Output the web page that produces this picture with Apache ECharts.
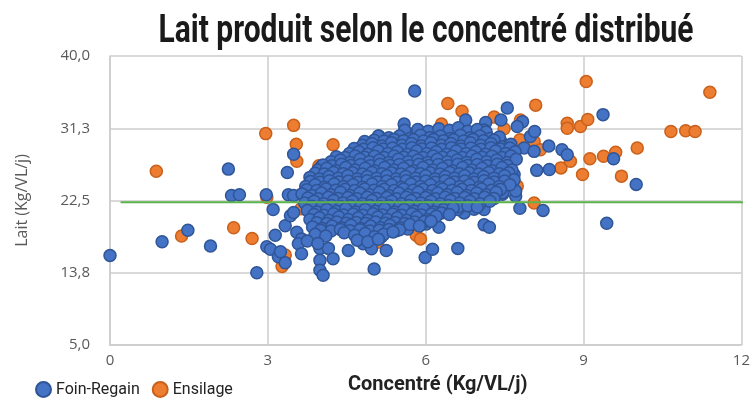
<!DOCTYPE html>
<html>
<head>
<meta charset="utf-8">
<script src="https://cdn.jsdelivr.net/npm/echarts@6/dist/echarts.min.js"></script>
<style>
  html, body { margin: 0; padding: 0; background: #fff; }
  #main { width: 753px; height: 400px; }
</style>
</head>
<body>
<div id="main"></div>
<script>
// axes
const xTicks = [0, 3, 6, 9, 12];
const seuil = 22.3; // ligne verte
const seuilX = [0.2, 12.2];

// Foin-Regain : points isolés
const foinOuter = [
  [0,15.85],[0.99,17.5],[1.48,18.9],[1.91,17.0],[2.25,26.3],[2.31,23.1],[2.46,23.2],[2.79,13.75],
  [2.97,23.2],[2.98,16.9],[3.05,16.6],[3.10,21.4],[3.14,18.3],[3.20,15.7],[3.24,16.3],[3.33,14.95],
  [3.33,19.45],[3.39,23.2],[3.49,23.1],[3.43,20.65],[3.49,21.05],[3.37,25.9],[3.49,28.1],[3.55,18.65],
  [3.64,17.85],[3.58,17.25],[3.64,16.05],[3.90,17.85],[3.99,16.7],[4.15,16.7],[3.99,15.25],[4.24,15.45],
  [3.99,14.05],[4.05,13.45],[4.53,16.45],[4.81,17.25],[4.97,16.65],[5.02,14.2],[5.25,16.45],[5.99,15.6],
  [6.13,16.6],[6.61,16.7],[6.25,19.25],[7.11,19.55],[7.21,19.25],[7.46,23.4],[7.11,21.4],[6.73,21.0],
  [6.45,21.05],[6.61,21.4],[6.92,21.45],[6.98,21.85],[5.16,18.1],[5.44,18.85],[5.66,19.05],[6.01,19.65],
  [5.79,35.75],[7.55,33.7],[7.43,32.25],[6.76,32.25],[7.14,31.95],[7.11,31.05],[5.59,31.75],[5.55,30.25],
  [5.11,30.3],[4.84,29.65],[4.87,28.85],[4.43,27.45],[4.02,26.65],[3.87,25.05],[4.09,24.65],[4.28,24.85],
  [5.85,31.05],[7.84,32.05],[7.74,31.45],[7.99,30.25],[8.07,30.85],[7.43,29.65],[7.87,28.85],[8.06,28.45],
  [8.34,29.1],[8.59,28.65],[8.69,28.05],[8.11,26.15],[8.35,26.25],[9.37,32.9],[9.57,27.55],[10.0,24.45],
  [9.44,19.75],[7.79,21.55],[8.23,21.3],[7.46,23.25],[7.71,23.05],[7.65,24.25],[7.36,28.65],[7.55,27.85],
  [7.47,26.7],[7.61,26.65],[7.68,25.65],[7.43,25.05],[7.65,24.65],[7.71,23.65],[7.46,23.45]
];

// Foin-Regain : nuage dense
const foinCore = [
  [5.6,31.0],[5.85,31.1],[6.05,30.9],[6.25,31.2],[6.45,31.0],[6.62,31.3],[6.8,30.9],[6.98,31.1],[7.15,30.8],
  [5.1,30.3],[5.3,30.1],[5.5,30.3],[5.7,30.0],[5.9,30.4],[6.08,30.1],[6.28,30.3],[6.47,30.0],[6.66,30.4],
  [6.85,30.1],[7.03,30.3],[7.22,30.0],[7.4,30.2],
  [5.02,29.8],[5.21,29.7],[5.4,29.9],[5.58,29.75],[5.77,29.85],[5.96,29.7],[6.15,29.9],[6.34,29.75],[6.53,29.85],
  [6.72,29.7],[6.9,29.9],[7.1,29.75],[7.3,29.8],
  [4.8,29.2],[4.98,29.4],[5.17,29.1],[5.35,29.5],[5.55,29.2],[5.73,29.4],[5.92,29.1],[6.1,29.5],[6.3,29.2],
  [6.48,29.4],[6.67,29.1],[6.85,29.5],[7.05,29.2],[7.24,29.4],[7.45,29.0],[7.62,29.3],
  [4.64,28.8],[4.82,28.7],[5.0,28.9],[5.19,28.75],[5.37,28.85],[5.56,28.7],[5.74,28.9],[5.93,28.75],[6.11,28.85],
  [6.3,28.7],[6.49,28.9],[6.67,28.75],[6.86,28.85],[7.05,28.7],[7.24,28.9],[7.42,28.75],[7.6,28.85],
  [4.55,28.2],[4.73,28.4],[4.9,28.1],[5.1,28.5],[5.28,28.2],[5.46,28.4],[5.65,28.1],[5.83,28.5],[6.02,28.2],
  [6.2,28.4],[6.4,28.1],[6.58,28.5],[6.77,28.2],[6.95,28.4],[7.14,28.1],[7.33,28.5],[7.52,28.2],[7.7,28.4],
  [4.3,27.8],[4.47,27.7],[4.66,27.9],[4.84,27.75],[5.03,27.85],[5.21,27.7],[5.4,27.9],[5.58,27.75],[5.77,27.85],
  [5.95,27.7],[6.14,27.9],[6.32,27.75],[6.51,27.85],[6.7,27.7],[6.88,27.9],[7.07,27.75],[7.26,27.85],[7.45,27.7],
  [7.62,27.9],
  [4.2,27.2],[4.38,27.4],[4.56,27.1],[4.75,27.5],[4.93,27.2],[5.12,27.4],[5.3,27.1],[5.48,27.5],[5.67,27.2],
  [5.85,27.4],[6.04,27.1],[6.22,27.5],[6.41,27.2],[6.6,27.4],[6.78,27.1],[6.97,27.5],[7.16,27.2],[7.35,27.4],
  [7.55,27.1],[7.72,27.5],
  [4.05,26.8],[4.22,26.7],[4.4,26.9],[4.58,26.75],[4.76,26.85],[4.95,26.7],[5.13,26.9],[5.32,26.75],[5.5,26.85],
  [5.69,26.7],[5.87,26.9],[6.06,26.75],[6.24,26.85],[6.43,26.7],[6.61,26.9],[6.8,26.75],[6.98,26.85],[7.17,26.7],
  [7.36,26.9],[7.55,26.75],
  [3.95,26.2],[4.12,26.4],[4.3,26.1],[4.48,26.5],[4.66,26.2],[4.85,26.4],[5.03,26.1],[5.22,26.5],[5.4,26.2],
  [5.58,26.4],[5.77,26.1],[5.95,26.5],[6.14,26.2],[6.32,26.4],[6.51,26.1],[6.7,26.5],[6.88,26.2],[7.07,26.4],
  [7.26,26.1],[7.45,26.5],[7.64,26.2],
  [3.9,25.8],[4.07,25.7],[4.25,25.9],[4.43,25.75],[4.61,25.85],[4.8,25.7],[4.98,25.9],[5.17,25.75],[5.35,25.85],
  [5.53,25.7],[5.72,25.9],[5.9,25.75],[6.09,25.85],[6.27,25.7],[6.46,25.9],[6.64,25.75],[6.83,25.85],[7.01,25.7],
  [7.2,25.9],[7.4,25.75],[7.58,25.85],
  [3.8,25.3],[3.98,25.1],[4.16,25.4],[4.34,25.2],[4.52,25.5],[4.7,25.1],[4.89,25.4],[5.07,25.2],[5.26,25.5],
  [5.44,25.1],[5.62,25.4],[5.81,25.2],[6.0,25.5],[6.18,25.1],[6.37,25.4],[6.55,25.2],[6.74,25.5],[6.92,25.1],
  [7.1,25.4],[7.3,25.2],[7.5,25.5],[7.68,25.0],
  [3.81,24.8],[3.99,24.7],[4.17,24.9],[4.35,24.75],[4.53,24.85],[4.71,24.7],[4.89,24.9],[5.08,24.75],[5.26,24.85],
  [5.45,24.7],[5.63,24.9],[5.81,24.75],[6.0,24.85],[6.18,24.7],[6.37,24.9],[6.55,24.75],[6.74,24.85],[6.92,24.7],
  [7.11,24.9],[7.3,24.75],[7.5,24.85],
  [3.72,24.2],[3.9,24.4],[4.08,24.1],[4.26,24.5],[4.44,24.2],[4.62,24.4],[4.8,24.1],[4.98,24.5],[5.17,24.2],
  [5.35,24.4],[5.54,24.1],[5.72,24.5],[5.9,24.2],[6.09,24.4],[6.28,24.1],[6.46,24.5],[6.65,24.2],[6.83,24.4],
  [7.02,24.1],[7.2,24.5],[7.4,24.2],[7.6,24.4],
  [3.74,23.8],[3.93,23.7],[4.11,23.9],[4.29,23.75],[4.47,23.85],[4.65,23.7],[4.84,23.9],[5.02,23.75],[5.21,23.85],
  [5.4,23.7],[5.58,23.9],[5.76,23.75],[5.95,23.85],[6.13,23.7],[6.32,23.9],[6.5,23.75],[6.69,23.85],[6.87,23.7],
  [7.06,23.9],[7.25,23.75],[7.42,23.85],
  [3.65,23.3],[3.84,23.1],[4.02,23.4],[4.2,23.2],[4.38,23.5],[4.56,23.1],[4.75,23.4],[4.93,23.2],[5.12,23.5],
  [5.3,23.1],[5.49,23.4],[5.67,23.2],[5.86,23.5],[6.04,23.1],[6.23,23.4],[6.41,23.2],[6.6,23.5],[6.78,23.1],
  [6.97,23.4],[7.15,23.2],[7.34,23.5],
  [3.76,22.8],[3.96,22.7],[4.15,22.9],[4.34,22.75],[4.52,22.85],[4.7,22.7],[4.89,22.9],[5.07,22.75],[5.26,22.85],
  [5.45,22.7],[5.63,22.9],[5.81,22.75],[6.0,22.85],[6.19,22.7],[6.37,22.9],[6.56,22.75],[6.74,22.85],[6.93,22.7],
  [7.12,22.9],[7.3,22.75],
  [3.7,22.2],[3.88,22.4],[4.06,22.1],[4.25,22.5],[4.43,22.2],[4.61,22.4],[4.8,22.1],[4.98,22.5],[5.17,22.2],
  [5.35,22.4],[5.54,22.1],[5.72,22.5],[5.91,22.2],[6.1,22.4],[6.28,22.1],[6.47,22.5],[6.65,22.2],[6.84,22.4],
  [7.03,22.1],[7.22,22.4],
  [3.84,21.8],[4.02,21.7],[4.21,21.9],[4.39,21.75],[4.57,21.85],[4.76,21.7],[4.94,21.9],[5.13,21.75],[5.31,21.85],
  [5.5,21.7],[5.68,21.9],[5.87,21.75],[6.05,21.85],[6.24,21.7],[6.43,21.9],[6.62,21.75],[6.8,21.85],[6.98,21.7],
  [3.75,21.3],[3.93,21.1],[4.12,21.4],[4.3,21.2],[4.48,21.5],[4.67,21.1],[4.85,21.4],[5.04,21.2],[5.22,21.5],
  [5.41,21.1],[5.59,21.4],[5.78,21.2],[5.96,21.5],[6.15,21.1],[6.34,21.4],[6.52,21.6],
  [3.88,20.8],[4.07,20.7],[4.25,20.9],[4.44,20.75],[4.62,20.85],[4.81,20.7],[5.0,20.9],[5.18,20.75],[5.37,20.85],
  [5.55,20.7],[5.74,20.9],[5.92,20.75],[6.11,20.85],[6.3,21.0],[6.45,20.8],
  [3.8,20.2],[3.98,20.4],[4.16,20.1],[4.35,20.5],[4.53,20.2],[4.72,20.4],[4.9,20.1],[5.09,20.5],[5.27,20.2],
  [5.46,20.4],[5.64,20.1],[5.83,20.5],[6.02,20.2],[6.2,20.6],
  [3.93,19.8],[4.12,19.7],[4.31,19.9],[4.49,19.75],[4.68,19.85],[4.86,19.7],[5.05,19.9],[5.23,19.75],[5.42,19.85],
  [5.6,19.7],[5.79,19.9],[5.98,19.95],[6.1,20.0],
  [3.85,19.3],[4.03,19.1],[4.22,19.4],[4.4,19.2],[4.58,19.5],[4.77,19.1],[4.95,19.4],[5.14,19.2],[5.32,19.5],
  [5.51,19.2],[5.7,19.6],[5.88,19.4],
  [4.0,18.9],[4.2,18.8],[4.38,19.0],[4.56,18.85],[4.75,18.95],[4.94,18.8],[5.12,18.9],[5.3,19.0],[5.5,18.95],
  [3.9,18.4],[4.1,18.2],[4.45,18.6],[4.65,18.3],[4.85,18.5],[5.03,18.1],[5.2,18.4],[5.38,18.7],
  [3.75,17.6],[3.95,17.3],[4.7,17.7],[4.9,17.5],[5.1,17.8]
];

// Ensilage
const ensilage = [
  [0.88,26.05],[1.36,18.2],[2.35,19.2],[2.70,17.9],[2.96,30.6],[2.98,22.9],[3.27,14.5],[3.33,15.9],
  [3.49,31.6],[3.54,29.3],[3.55,27.25],[3.63,21.5],[3.80,22.9],[4.24,29.25],[3.97,26.7],[4.72,27.25],
  [4.97,28.05],[5.09,17.45],[5.66,30.65],[5.66,29.65],[5.82,18.3],[5.90,17.85],[6.10,30.1],[6.30,31.75],
  [6.42,34.25],[6.69,33.3],[6.73,22.05],[7.30,32.6],[7.49,31.2],[7.52,28.45],[7.74,24.25],[7.79,29.85],
  [7.80,32.25],[8.06,29.65],[8.06,22.2],[8.09,34.05],[8.18,28.65],[8.57,26.45],[8.69,31.85],[8.69,31.25],
  [8.75,27.25],[8.94,31.45],[8.98,25.65],[9.05,36.9],[9.08,32.3],[9.12,27.55],[9.38,27.85],[9.61,28.35],
  [9.72,25.45],[10.02,28.85],[10.66,30.85],[10.94,30.95],[11.12,30.85],[11.40,35.6]
];

const titleText = 'Lait produit selon le concentré distribué';
const titleFont = 'bold 38px Roboto';
// largeur du titre condensé dans l'original
const ctx = document.createElement('canvas').getContext('2d');
ctx.font = titleFont;
const titleScale = 535 / ctx.measureText(titleText).width;

const chart = echarts.init(document.getElementById('main'));
chart.setOption({
  backgroundColor: '#fff',
  animation: false,
  graphic: [{
    type: 'text', x: 426, y: 32, scaleX: titleScale,
    style: { text: titleText, font: titleFont, fill: '#1a1a1a', align: 'center', verticalAlign: 'middle' }
  }],
  legend: {
    data: ['Foin-Regain', 'Ensilage'],
    left: 30, top: 376, icon: 'circle', itemWidth: 15, itemHeight: 15, itemGap: 12,
    textStyle: { fontFamily: 'Roboto', fontSize: 16, color: '#222' }
  },
  grid: { left: 110, right: 7, top: 56, bottom: 53 },
  xAxis: {
    type: 'value', min: 0, max: 12, interval: 3,
    name: 'Concentré (Kg/VL/j)', nameLocation: 'middle', nameGap: 30,
    nameTextStyle: { fontFamily: 'Roboto', fontWeight: 'bold', fontSize: 20, color: '#222', padding: [0, 0, 0, 24] },
    axisLine: { show: true, lineStyle: { color: '#cccccc', width: 1.5 } },
    axisTick: { show: false },
    splitLine: { show: true, lineStyle: { color: '#cccccc', width: 1.5 } },
    axisLabel: { fontFamily: 'Open Sans', fontSize: 15, color: '#595959', margin: 8,
      formatter: v => xTicks.includes(v) ? String(v) : '' }
  },
  yAxis: {
    type: 'value', min: 5, max: 40, interval: 8.75,
    name: 'Lait (Kg/VL/j)', nameLocation: 'middle', nameGap: 80, nameRotate: 90,
    nameTextStyle: { fontFamily: 'Open Sans', fontSize: 16, color: '#595959' },
    axisLine: { show: true, lineStyle: { color: '#cccccc', width: 1.5 } },
    axisTick: { show: false },
    splitLine: { show: true, lineStyle: { color: '#cccccc', width: 1.5 } },
    axisLabel: { fontFamily: 'Open Sans', fontSize: 15, color: '#595959', margin: 20,
      formatter: v => v.toFixed(1).replace('.', ',') }
  },
  series: [
    {
      name: 'Ensilage', type: 'scatter', z: 2, symbolSize: 12,
      itemStyle: { color: '#ED7D31', borderColor: '#C9601B', borderWidth: 1.5, opacity: 1 },
      data: ensilage
    },
    {
      name: 'Foin-Regain', type: 'scatter', z: 3, symbolSize: 12,
      itemStyle: { color: '#4472C4', borderColor: '#2F5597', borderWidth: 1.5, opacity: 1 },
      data: foinOuter.concat(foinCore)
    },
    {
      name: 'seuil', type: 'line', z: 4, clip: false, silent: true, symbol: 'none',
      lineStyle: { color: '#5DB44C', width: 2 },
      data: seuilX.map(x => [x, seuil])
    }
  ]
});
</script>
</body>
</html>
